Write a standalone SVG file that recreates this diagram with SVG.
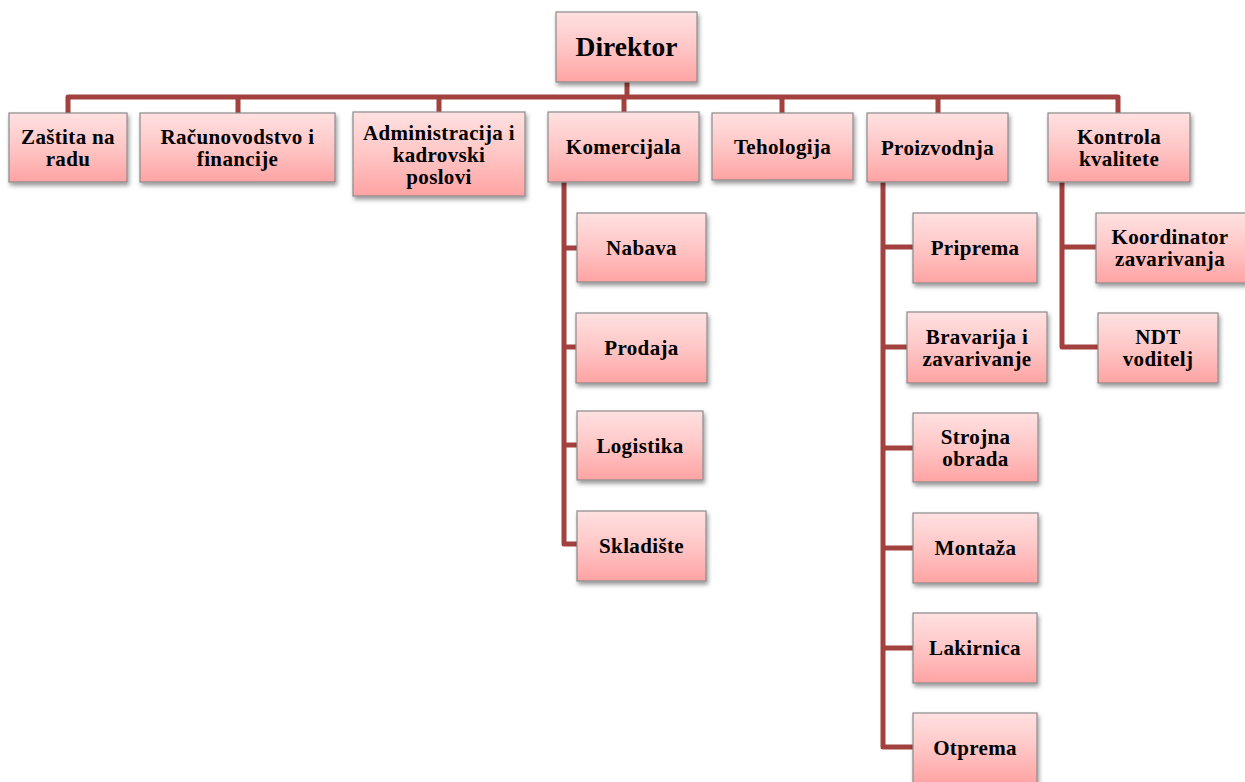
<svg xmlns="http://www.w3.org/2000/svg" width="1245" height="782" viewBox="0 0 1245 782">
<defs>
<linearGradient id="g" x1="0" y1="0" x2="0" y2="1">
<stop offset="0" stop-color="#FFE1E1"/>
<stop offset="0.5" stop-color="#FFC6C6"/>
<stop offset="1" stop-color="#FFA3A3"/>
</linearGradient>
<filter id="sh" x="-10%" y="-10%" width="125%" height="135%">
<feDropShadow dx="1.5" dy="3" stdDeviation="2" flood-color="#000" flood-opacity="0.4"/>
</filter>
</defs>
<style>
.box{fill:url(#g);stroke:#8A8A8A;stroke-width:1.2;filter:url(#sh)}
.t{font-family:"Liberation Serif","Times New Roman",serif;font-weight:bold;font-size:21px;letter-spacing:0.35px;fill:#000;text-anchor:middle}
.big{font-size:27.5px;letter-spacing:0}
.c{fill:none;stroke:#A3413F;stroke-width:5;stroke-linejoin:round}
</style>
<rect width="1245" height="782" fill="#fff"/>
<g id="connectors">
<path class="c" d="M627 82V97M68 113V97H1118V113M238 97V113M439 97V112M624 97V112M782 97V113M938 97V113"/>
<path class="c" d="M564 182V544H577M564 248H577M564 347H576M564 445H577"/>
<path class="c" d="M883 182V747H913M883 247H913M883 347H907M883 448H913M883 548H913M883 648H913"/>
<path class="c" d="M1062 182V347H1098M1062 247H1096"/>
</g>
<g id="n-direktor"><rect class="box" x="556" y="12" width="141" height="70"/><text class="t big" x="626.5" y="56">Direktor</text></g>
<g id="n-zastita"><rect class="box" x="9" y="113" width="118" height="69"/><text class="t" x="68" y="144">Zaštita na</text><text class="t" x="68" y="166">radu</text></g>
<g id="n-racunovodstvo"><rect class="box" x="140" y="113" width="195" height="69"/><text class="t" x="237.5" y="144">Računovodstvo i</text><text class="t" x="237.5" y="166">financije</text></g>
<g id="n-administracija"><rect class="box" x="353" y="112" width="172" height="84"/><text class="t" x="439" y="139.5">Administracija i</text><text class="t" x="439" y="161.5">kadrovski</text><text class="t" x="439" y="183.5">poslovi</text></g>
<g id="n-komercijala"><rect class="box" x="548" y="112" width="151" height="70"/><text class="t" x="623.5" y="154">Komercijala</text></g>
<g id="n-tehologija"><rect class="box" x="712" y="113" width="141" height="67"/><text class="t" x="782.5" y="154">Tehologija</text></g>
<g id="n-proizvodnja"><rect class="box" x="867" y="113" width="141" height="69"/><text class="t" x="937.5" y="155">Proizvodnja</text></g>
<g id="n-kontrola"><rect class="box" x="1048" y="113" width="142" height="69"/><text class="t" x="1119" y="144">Kontrola</text><text class="t" x="1119" y="166">kvalitete</text></g>
<g id="n-nabava"><rect class="box" x="577" y="213" width="129" height="69"/><text class="t" x="641.5" y="255">Nabava</text></g>
<g id="n-prodaja"><rect class="box" x="576" y="313" width="131" height="70"/><text class="t" x="641.5" y="355">Prodaja</text></g>
<g id="n-logistika"><rect class="box" x="577" y="411" width="126" height="69"/><text class="t" x="640" y="453">Logistika</text></g>
<g id="n-skladiste"><rect class="box" x="577" y="511" width="129" height="70"/><text class="t" x="641.5" y="553">Skladište</text></g>
<g id="n-priprema"><rect class="box" x="913" y="213" width="124" height="70"/><text class="t" x="975" y="255">Priprema</text></g>
<g id="n-bravarija"><rect class="box" x="907" y="312" width="140" height="71"/><text class="t" x="977" y="344">Bravarija i</text><text class="t" x="977" y="366">zavarivanje</text></g>
<g id="n-strojna"><rect class="box" x="913" y="413" width="125" height="69"/><text class="t" x="975.5" y="444">Strojna</text><text class="t" x="975.5" y="466">obrada</text></g>
<g id="n-montaza"><rect class="box" x="913" y="513" width="125" height="70"/><text class="t" x="975.5" y="555">Montaža</text></g>
<g id="n-lakirnica"><rect class="box" x="913" y="613" width="124" height="70"/><text class="t" x="975" y="655">Lakirnica</text></g>
<g id="n-otprema"><rect class="box" x="913" y="713" width="124" height="70"/><text class="t" x="975" y="755">Otprema</text></g>
<g id="n-koordinator"><rect class="box" x="1096" y="213" width="152" height="70"/><text class="t" x="1170" y="244">Koordinator</text><text class="t" x="1170" y="266">zavarivanja</text></g>
<g id="n-ndt"><rect class="box" x="1098" y="313" width="120" height="70"/><text class="t" x="1158" y="344">NDT</text><text class="t" x="1158" y="366">voditelj</text></g>
</svg>
